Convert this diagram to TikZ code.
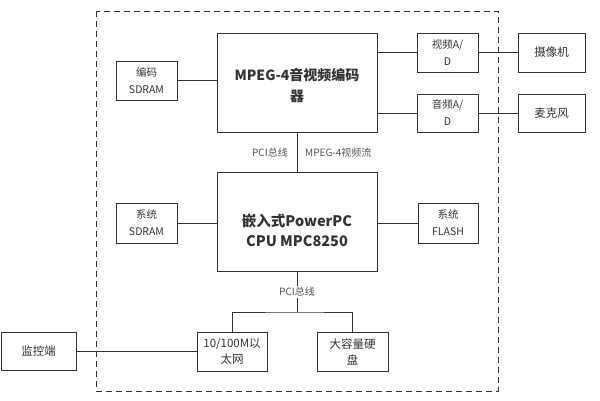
\documentclass[tikz,border=0pt]{standalone}
\usepackage{fontspec}
\setmainfont{Noto Sans CJK SC}
\usepackage{xcolor}
\usepackage{tikz}

\definecolor{linegray}{HTML}{333333}
\definecolor{labelgray}{HTML}{555555}

\begin{document}
\begin{tikzpicture}[
    x=1pt,y=-1pt,
    box/.style={draw=linegray,thick,align=center,inner sep=1pt,
                font=\fontsize{10.5}{17}\selectfont,text=linegray},
    smallbox/.style={box,minimum width=61pt,minimum height=39pt},
    bigbox/.style={draw=linegray,thick,minimum width=160pt,minimum height=99pt},
    bigtext/.style={align=center,inner sep=0pt,text=linegray,
                    font=\fontsize{14}{21}\selectfont\bfseries},
    outbox/.style={box,minimum width=67pt,minimum height=39pt,
                   font=\fontsize{11.5}{14}\selectfont},
    frame/.style={draw=linegray,thick,dash pattern=on 6pt off 4pt},
    wire/.style={draw=linegray,thick},
    buslabel/.style={font=\fontsize{10}{12}\selectfont,text=labelgray,
                     inner sep=1pt}
  ]
    \useasboundingbox (0,0) rectangle (600,400);
    \draw[frame] (96,11) rectangle (498,391);
    \node[bigbox] (enc) at (297,82.5) {};
    \node[bigtext] (enctext) at ([yshift=-3pt]enc.center) {MPEG-4音视频编码\\器};
    \node[smallbox] (encram) at (146.5,80.5) {编码\\SDRAM};
    \node[smallbox] (vad) at (447.5,52.5) {视频A/\\D};
    \node[smallbox,minimum height=38pt] (aad) at (447.5,113) {音频A/\\D};
    \node[outbox] (cam) at (551.5,52.5) {摄像机};
    \node[outbox,minimum height=38pt] (mic) at (551.5,113) {麦克风};
    \node[bigbox] (cpu) at (297,221.5) {};
    \node[bigtext,font=\fontsize{14.5}{20}\selectfont\bfseries] (cputext)
      at ([yshift=-9pt]cpu.center) {嵌入式PowerPC\\CPU MPC8250};
    \node[smallbox,minimum height=40pt] (sysram) at (146.5,223) {系统\\SDRAM};
    \node[smallbox,minimum width=60pt,minimum height=40pt] (flash) at (448,223)
      {系统\\FLASH};
    \node[smallbox,minimum width=70pt,font=\fontsize{11.5}{16}\selectfont] (eth)
      at (232,351.5) {10/100M以\\太网};
    \node[smallbox,minimum width=71pt,font=\fontsize{11.5}{16}\selectfont] (disk)
      at (352.5,351.5) {大容量硬\\盘};
    \node[outbox,minimum width=75pt,minimum height=38pt] (mon) at (38.5,351)
      {监控端};
    \coordinate (bus) at (297,312);
    \draw[wire] (encram.east) -- (encram.east -| enc.west);
    \draw[wire] (vad.west) -- (vad.west -| enc.east);
    \draw[wire] (aad.west) -- (aad.west -| enc.east);
    \draw[wire] (vad) -- (cam);
    \draw[wire] (aad) -- (mic);
    \draw[wire] (enc) -- (cpu);
    \node[buslabel,anchor=east] (pcitop) at (289,153) {PCI总线};
    \node[buslabel,anchor=west] (stream) at (304,153) {MPEG-4视频流};
    \draw[wire] (sysram.east) -- (sysram.east -| cpu.west);
    \draw[wire] (flash.west) -- (flash.west -| cpu.east);
    \draw[wire] (cpu.south) -- (bus);
    \draw[wire] (eth.north) |- (bus) -| (disk.north);
    \node[buslabel,fill=white] (pcibot) at (297,292) {PCI总线};
    \draw[wire] (mon.east) -- (mon.east -| eth.west);
  \end{tikzpicture}
\end{document}
